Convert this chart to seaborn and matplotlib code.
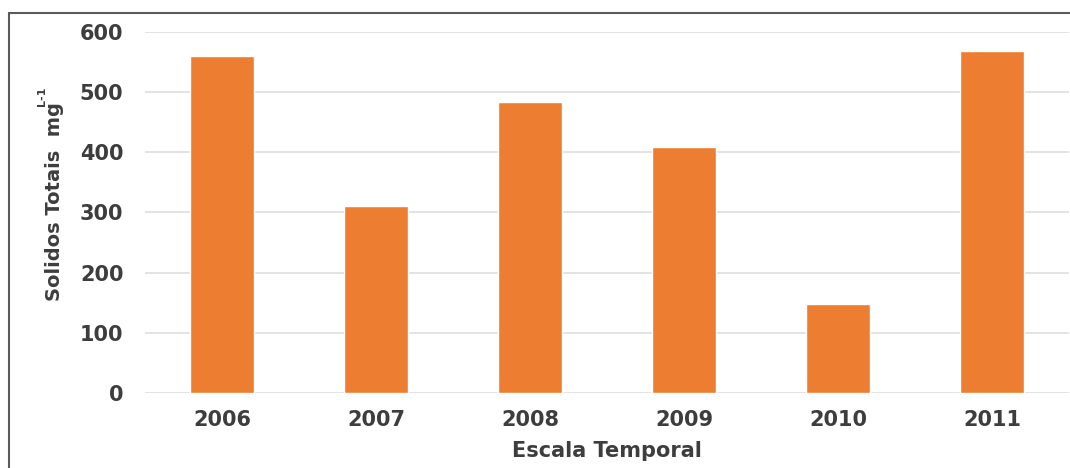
import matplotlib
matplotlib.use("Agg")
import matplotlib.pyplot as plt
from matplotlib.lines import Line2D
import seaborn as sns
import pandas as pd

# Annual total solids (mg/L)
years = ["2006", "2007", "2008", "2009", "2010", "2011"]
solids = [560, 310, 484, 408, 148, 568]
y_ticks = [0, 100, 200, 300, 400, 500, 600]

sns.set_theme(style="white")
plt.rcParams["font.family"] = ["DejaVu Sans"]
plt.rcParams["font.weight"] = "bold"

TEXT = "#3d3d3d"
BAR = "#ED7D31"
GRID = "#dedede"

W, H = 1070, 468
fig = plt.figure(figsize=(W / 100, H / 100), dpi=100)
ax = fig.add_axes([145 / W, 1 - 393.3 / H, 924 / W, (393.3 - 31.7) / H])

df = pd.DataFrame({"Ano": years, "Solidos": solids})
sns.barplot(data=df, x="Ano", y="Solidos", color=BAR, saturation=1,
            width=0.415, ax=ax, zorder=3)

ax.set_ylim(0, 600)
ax.set_xlim(-0.5, len(years) - 0.5)
ax.set_yticks(y_ticks)
ax.set_yticklabels([str(v) for v in y_ticks])
ax.yaxis.grid(True, color=GRID, linewidth=1.2, zorder=0)
ax.set_axisbelow(True)
for s in ax.spines.values():
    s.set_visible(False)

ax.tick_params(axis="y", length=0, pad=15.5, labelsize=15, labelcolor=TEXT)
ax.tick_params(axis="x", length=0, pad=12, labelsize=15, labelcolor=TEXT)
for lbl in ax.get_xticklabels() + ax.get_yticklabels():
    lbl.set_fontweight("bold")

ax.set_xlabel("Escala Temporal", fontsize=15, fontweight="bold", color=TEXT,
              labelpad=8)
ax.set_ylabel("")

# y-axis title with superscript unit
fig.text(55 / W, 1 - 102 / H, "Solidos Totais  mg", rotation=90,
         ha="center", va="top", fontsize=14, fontweight="bold", color=TEXT)
fig.text(42 / W, 1 - 87 / H, "L-1", rotation=90,
         ha="center", va="top", fontsize=8, fontweight="bold", color=TEXT)

# chart frame
fig.add_artist(Line2D([9 / W, 9 / W], [0, 1 - 13 / H], transform=fig.transFigure,
                      color="#5a5a5a", linewidth=1.5))
fig.add_artist(Line2D([9 / W, 1], [1 - 13 / H, 1 - 13 / H], transform=fig.transFigure,
                      color="#5a5a5a", linewidth=1.5))

fig.savefig("out.png", dpi=100, facecolor="white")
